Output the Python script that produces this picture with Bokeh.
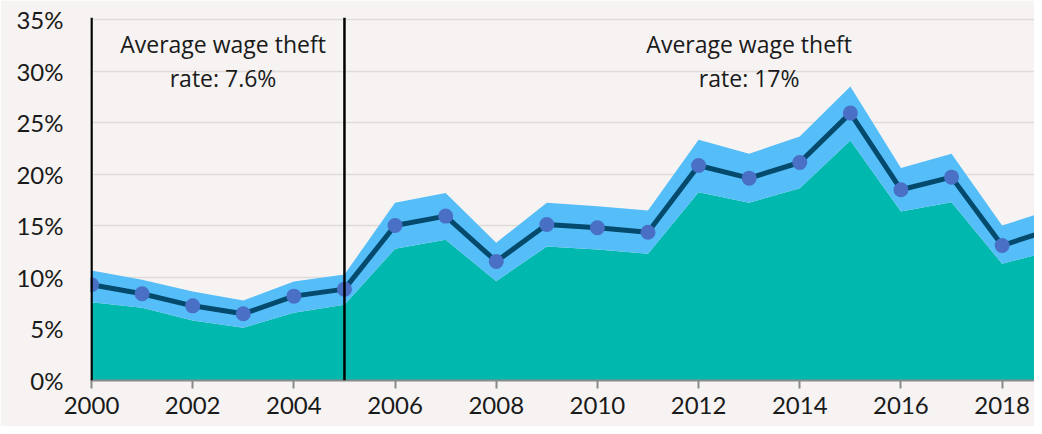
from bokeh.plotting import figure
from bokeh.models import ColumnDataSource, Span, FixedTicker, PrintfTickFormatter, Range1d
from bokeh.core.properties import value
from bokeh.embed import file_html
from bokeh.resources import INLINE

years = [2000, 2001, 2002, 2003, 2004, 2005, 2006, 2007, 2008, 2009,
         2010, 2011, 2012, 2013, 2014, 2015, 2016, 2017, 2018, 2019]
rate = [9.28, 8.41, 7.24, 6.47, 8.18, 8.86, 15.03, 15.94, 11.54, 15.13,
        14.81, 14.38, 20.85, 19.62, 21.14, 25.93, 18.5, 19.72, 13.09, 14.7]
upper = [10.67, 9.77, 8.63, 7.76, 9.6, 10.28, 17.24, 18.17, 13.36, 17.24,
         16.9, 16.49, 23.35, 21.99, 23.67, 28.52, 20.6, 21.99, 15.03, 16.6]
lower = [7.6, 7.05, 5.82, 5.11, 6.57, 7.34, 12.77, 13.65, 9.63, 13.0,
         12.7, 12.29, 18.26, 17.24, 18.65, 23.28, 16.39, 17.29, 11.32, 12.6]
x_ticks = [2000, 2002, 2004, 2006, 2008, 2010, 2012, 2014, 2016, 2018]
y_ticks = [0, 5, 10, 15, 20, 25, 30, 35]
period_breaks = [2000, 2005]
notes = [("Average wage theft", "rate: 7.6%", 2002.6),
         ("Average wage theft", "rate: 17%", 2013.0)]

BG = "#f6f3f2"
FONT = "Lato"
NOTE_FONT = "Open Sans"

src = ColumnDataSource(dict(year=years, rate=rate, upper=upper, lower=lower,
                            zero=[0] * len(years)))

p = figure(width=1034, height=426, output_backend="svg", toolbar_location=None,
           x_range=Range1d(1999.98, 2018.64), y_range=Range1d(0, 35.2),
           min_border_left=90, min_border_right=0, min_border_top=17,
           min_border_bottom=46)
p.background_fill_color = BG
p.border_fill_color = BG
p.outline_line_color = None

p.varea(x="year", y1="zero", y2="lower", source=src, fill_color="#00b8ae")
p.varea(x="year", y1="lower", y2="upper", source=src, fill_color="#55bdf7")
p.line(x="year", y="rate", source=src, line_color="#034a6d", line_width=5)
p.scatter(x="year", y="rate", source=src, size=15, fill_color="#4a70c6",
          line_color=None)

for yr in period_breaks:
    p.add_layout(Span(location=yr, dimension="height", line_color="black",
                      line_width=2.5))

for l1, l2, xc in notes:
    p.text(x=[xc], y=[32.66], text=[l1], text_align="center",
           text_baseline="alphabetic", text_font=value(NOTE_FONT),
           text_font_size="23px", text_color="#1a1a1a")
    p.text(x=[xc], y=[29.38], text=[l2], text_align="center",
           text_baseline="alphabetic", text_font=value(NOTE_FONT),
           text_font_size="23px", text_color="#1a1a1a")

p.xgrid.grid_line_color = None
p.ygrid.grid_line_color = "#dfdbd9"
p.ygrid.grid_line_width = 1.5

p.xaxis.ticker = FixedTicker(ticks=x_ticks)
p.xaxis.axis_line_color = "#8a8a8a"
p.xaxis.axis_line_width = 2
p.xaxis.major_tick_line_color = "#8a8a8a"
p.xaxis.major_tick_line_width = 2
p.xaxis.major_tick_out = 8
p.xaxis.major_tick_in = 0
p.xaxis.minor_tick_line_color = None
p.xaxis.major_label_standoff = 8
p.xaxis.major_label_text_font = FONT
p.xaxis.major_label_text_font_size = "24px"
p.xaxis.major_label_text_color = "#1a1a1a"

p.yaxis.ticker = FixedTicker(ticks=y_ticks)
p.yaxis.formatter = PrintfTickFormatter(format="%d%%")
p.yaxis.axis_line_color = None
p.yaxis.major_tick_line_color = None
p.yaxis.minor_tick_line_color = None
p.yaxis.major_tick_out = 0
p.yaxis.major_tick_in = 0
p.yaxis.major_label_standoff = 27
p.yaxis.major_label_text_font = FONT
p.yaxis.major_label_text_font_size = "24px"
p.yaxis.major_label_text_color = "#1a1a1a"

open("out.html", "w").write(file_html(p, INLINE))
